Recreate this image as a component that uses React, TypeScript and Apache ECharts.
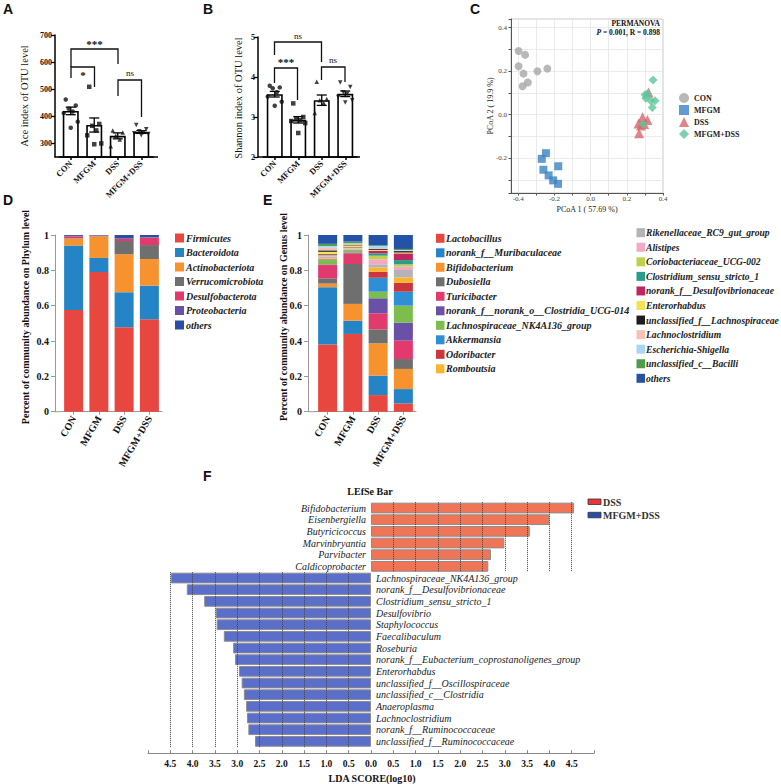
import React, { useEffect, useRef } from 'react';
import * as echarts from 'echarts';

const SERIF = "'Liberation Serif', 'Times New Roman', serif";
const SANS = "'Liberation Sans', Arial, sans-serif";

const groups = ['CON', 'MFGM', 'DSS', 'MFGM+DSS'];

// Panel A – Ace index
const aceMean = [420, 368, 328, 342];
const aceSem = [14, 26, 11, 5];
const acePoints = [
  [462, 440, 428, 418, 412, 380, 358],
  [509, 372, 365, 348, 330, 300, 297],
  [348, 340, 328, 315, 290],
  [368, 352, 345, 340, 338, 335, 330],
];

// Panel B – Shannon index
const shMean = [3.57, 2.93, 3.42, 3.58];
const shSem = [0.07, 0.08, 0.13, 0.07];
const shPoints = [
  [3.78, 3.74, 3.72, 3.62, 3.51, 3.38, 3.28],
  [3.34, 3.0, 2.95, 2.92, 2.9, 2.85, 2.6],
  [3.88, 3.45, 3.42, 3.35, 3.1],
  [3.86, 3.75, 3.62, 3.58, 3.5, 3.42, 3.36],
];

// Panel C – PCoA
const pcoaCON = [[-0.398, 0.293], [-0.362, 0.275], [-0.398, 0.223], [-0.371, 0.189], [-0.347, 0.148], [-0.376, 0.131], [-0.294, 0.2], [-0.239, 0.212]];
const pcoaMFGM = [[-0.27, -0.203], [-0.247, -0.177], [-0.261, -0.253], [-0.232, -0.279], [-0.207, -0.302], [-0.18, -0.318], [-0.179, -0.237]];
const pcoaDSS = [[0.32, 0.102], [0.287, -0.012], [0.314, -0.024], [0.265, -0.04], [0.278, -0.05], [0.268, -0.085], [0.296, -0.043]];
const pcoaMFGMDSS = [[0.345, 0.16], [0.301, 0.092], [0.314, 0.095], [0.305, 0.076], [0.332, 0.064], [0.356, 0.064], [0.341, 0.033], [0.29, -0.043]];

// Panel D – Phylum
const phylumNames = ['Firmicutes', 'Bacteroidota', 'Actinobacteriota', 'Verrucomicrobiota', 'Desulfobacterota', 'Proteobacteria', 'others'];
const phylumColors = ['#e8473f', '#2484c6', '#f7932f', '#6f6f6f', '#e33a6d', '#6a51a8', '#2a4fa0'];
const phylumValues = [
  [0.575, 0.79, 0.478, 0.523],
  [0.365, 0.08, 0.198, 0.19],
  [0.04, 0.122, 0.215, 0.151],
  [0.002, 0.002, 0.075, 0.079],
  [0.01, 0.002, 0.012, 0.042],
  [0.003, 0.002, 0.004, 0.002],
  [0.005, 0.002, 0.018, 0.013],
];

// Panel E – Genus
const genusNames = [
  'Lactobacillus', 'norank_f__Muribaculaceae', 'Bifidobacterium', 'Dubosiella', 'Turicibacter',
  'norank_f__norank_o__Clostridia_UCG-014', 'Lachnospiraceae_NK4A136_group', 'Akkermansia', 'Odoribacter', 'Romboutsia',
  'Rikenellaceae_RC9_gut_group', 'Alistipes', 'Coriobacteriaceae_UCG-002', 'Clostridium_sensu_stricto_1',
  'norank_f__Desulfovibrionaceae', 'Enterorhabdus', 'unclassified_f__Lachnospiraceae', 'Lachnoclostridium',
  'Escherichia-Shigella', 'unclassified_c__Bacilli', 'others',
];
const genusColors = [
  '#e8473f', '#2484c6', '#f7932f', '#6f6f6f', '#e33a6d', '#6a51a8', '#7cbd4e', '#2f8fd6', '#c9373a', '#f9b530',
  '#b3b3b8', '#f2a9c6', '#bfd14a', '#2a9c8c', '#c0255f', '#f1e352', '#1d1d1d', '#f8c2b3', '#a9d6f2', '#4a9e4e', '#2452a8',
];
const genusValues = [
  [0.38, 0.44, 0.094, 0.047],
  [0.325, 0.075, 0.11, 0.081],
  [0.02, 0.095, 0.183, 0.114],
  [0.03, 0.226, 0.079, 0.056],
  [0.075, 0.06, 0.091, 0.104],
  [0.003, 0.003, 0.085, 0.102],
  [0.025, 0.01, 0.037, 0.096],
  [0.002, 0.003, 0.079, 0.079],
  [0.003, 0.002, 0.034, 0.051],
  [0.005, 0.004, 0.025, 0.03],
  [0.007, 0.003, 0.017, 0.042],
  [0.005, 0.003, 0.028, 0.019],
  [0.005, 0.004, 0.021, 0.013],
  [0.003, 0.002, 0.013, 0.024],
  [0.005, 0.003, 0.015, 0.038],
  [0.012, 0.008, 0.005, 0.005],
  [0.008, 0.004, 0.006, 0.008],
  [0.015, 0.005, 0.004, 0.003],
  [0.01, 0.003, 0.012, 0.003],
  [0.012, 0.01, 0.004, 0.006],
  [0.05, 0.037, 0.058, 0.079],
];

// Panel F – LEfSe
const dssTaxa = ['Bifidobacterium', 'Eisenbergiella', 'Butyricicoccus', 'Marvinbryantia', 'Parvibacter', 'Caldicoprobacter'];
const dssLda = [4.55, 4.0, 3.56, 2.99, 2.69, 2.63];
const mfgmTaxa = [
  'Lachnospiraceae_NK4A136_group', 'norank_f__Desulfovibrionaceae', 'Clostridium_sensu_stricto_1', 'Desulfovibrio',
  'Staphylococcus', 'Faecalibaculum', 'Roseburia', 'norank_f__Eubacterium_coprostanoligenes_group', 'Enterorhabdus',
  'unclassified_f__Oscillospiraceae', 'unclassified_c__Clostridia', 'Anaeroplasma', 'Lachnoclostridium',
  'norank_f__Ruminococcaceae', 'unclassified_f__Ruminococcaceae',
];
const mfgmLda = [4.49, 4.13, 3.74, 3.48, 3.46, 3.3, 3.09, 3.05, 2.96, 2.9, 2.85, 2.8, 2.78, 2.75, 2.6];
const ldaGridTicks = [0.5, 1, 1.5, 2, 2.5, 3, 3.5, 4, 4.5];

const dotSymbols = ['circle', 'rect', 'triangle', 'triangle'];
const dotRotate = [0, 0, 0, 180];
const jitter = [-5, 5, -2, 2, -7, 7, 0];

function txt(text: string, x: number, y: number, o: any = {}) {
  const align = o.align || 'center';
  const va = o.va || 'middle';
  return {
    type: 'text', x, y, rotation: o.rot || 0, silent: true, z: 50,
    style: {
      text, fill: o.fill || '#111', fontSize: o.size || 10, fontWeight: o.weight || 'normal',
      fontStyle: o.fstyle || 'normal', fontFamily: o.family || SERIF,
      align, verticalAlign: va, textAlign: align, textVerticalAlign: va, rich: o.rich,
    },
  };
}
function pl(points: number[][], w = 1.3, color = '#111') {
  return { type: 'polyline', silent: true, z: 50, shape: { points }, style: { stroke: color, lineWidth: w, fill: null } };
}

function errRender(_p: any, api: any) {
  const x = api.value(0), m = api.value(1), e = api.value(2);
  const t = api.coord([x, m + e]);
  const b = api.coord([x, m - e]);
  const w = 5;
  const st = { stroke: '#000', lineWidth: 1.3 };
  return {
    type: 'group',
    children: [
      { type: 'line', shape: { x1: t[0], y1: t[1], x2: b[0], y2: b[1] }, style: st },
      { type: 'line', shape: { x1: t[0] - w, y1: t[1], x2: t[0] + w, y2: t[1] }, style: st },
      { type: 'line', shape: { x1: b[0] - w, y1: b[1], x2: b[0] + w, y2: b[1] }, style: st },
    ],
  };
}

function dotPlot(xi: number, yi: number, mean: number[], sem: number[], pts: number[][]) {
  const s: any[] = [
    {
      type: 'bar', name: 'bar' + xi, xAxisIndex: xi, yAxisIndex: yi, data: mean, barWidth: 16, z: 2,
      itemStyle: { color: '#fff', borderColor: '#000', borderWidth: 1.6 },
    },
    {
      type: 'custom', name: 'err' + xi, xAxisIndex: xi, yAxisIndex: yi, z: 3, renderItem: errRender,
      encode: { x: 0, y: 1 }, data: mean.map((m, i) => [i, m, sem[i]]),
    },
  ];
  pts.forEach((arr, i) => {
    s.push({
      type: 'scatter', name: 'pts' + xi + '_' + i, xAxisIndex: xi, yAxisIndex: yi, z: 4,
      symbol: dotSymbols[i], symbolRotate: dotRotate[i], symbolSize: 4.5,
      itemStyle: { color: '#111' },
      data: arr.map((v, j) => ({ value: [i, v], symbolOffset: [jitter[j % jitter.length], 0] })),
    });
  });
  return s;
}

const catAxis = (gridIndex: number, rotate: number, size: number, color: string, lw: number) => ({
  type: 'category', gridIndex, data: groups,
  axisLine: { show: true, onZero: false, lineStyle: { color, width: lw } },
  axisTick: { show: true, alignWithLabel: true, length: 3, lineStyle: { color, width: lw } },
  axisLabel: { interval: 0, rotate, fontSize: size, fontWeight: 'bold', fontFamily: SERIF, color: '#111', margin: 5 },
});

function buildOption(): any {
  const series: any[] = [];
  series.push(...dotPlot(0, 0, aceMean, aceSem, acePoints));
  series.push(...dotPlot(2, 2, shMean, shSem, shPoints));

  const pc = [
    { name: 'CON', data: pcoaCON, symbol: 'circle', size: 8, color: '#a6a6a6' },
    { name: 'MFGM', data: pcoaMFGM, symbol: 'rect', size: 8, color: '#3b82c4' },
    { name: 'DSS', data: pcoaDSS, symbol: 'triangle', size: 10, color: '#d6686c' },
    { name: 'MFGM+DSS', data: pcoaMFGMDSS, symbol: 'diamond', size: 9, color: '#5ec69a' },
  ];
  pc.forEach((p) => series.push({
    type: 'scatter', name: p.name, xAxisIndex: 3, yAxisIndex: 3, symbol: p.symbol, symbolSize: p.size,
    itemStyle: { color: p.color }, data: p.data,
  }));

  phylumNames.forEach((n, k) => series.push({
    type: 'bar', name: 'D:' + n, stack: 'D', xAxisIndex: 4, yAxisIndex: 4, barWidth: 19,
    itemStyle: { color: phylumColors[k] }, data: phylumValues[k],
  }));
  genusNames.forEach((n, k) => series.push({
    type: 'bar', name: 'E:' + n, stack: 'E', xAxisIndex: 5, yAxisIndex: 5, barWidth: 19,
    itemStyle: { color: genusColors[k] }, data: genusValues[k],
  }));

  const fLabel = { show: true, formatter: '{b}', fontSize: 10, fontStyle: 'italic', fontFamily: SERIF, color: '#222', distance: 5 };
  const mlStyle = { type: 'dotted', color: '#444', width: 1 };
  series.push({
    type: 'bar', name: 'F-DSS', xAxisIndex: 6, yAxisIndex: 6, data: dssLda, barWidth: '92%',
    itemStyle: { color: '#f07556', borderColor: '#8c8c8c', borderWidth: 1 },
    label: { ...fLabel, position: 'left' },
    markLine: { silent: true, symbol: 'none', label: { show: false }, lineStyle: mlStyle, data: ldaGridTicks.map((v) => ({ xAxis: v })) },
  });
  series.push({
    type: 'bar', name: 'F-MFGM+DSS', xAxisIndex: 7, yAxisIndex: 7, data: mfgmLda.map((v) => -v), barWidth: '92%',
    itemStyle: { color: '#5b6fca', borderColor: '#8c8c8c', borderWidth: 1 },
    label: { ...fLabel, position: 'right' },
    markLine: { silent: true, symbol: 'none', label: { show: false }, lineStyle: mlStyle, data: ldaGridTicks.map((v) => ({ xAxis: -v })) },
  });

  const pcFmt = (v: number) => {
    const r = Math.round(v * 10);
    if (Math.abs(v * 10 - r) > 1e-6 || r % 2 !== 0) return '';
    return (r / 10).toFixed(1);
  };
  const fracFmt = (v: number) => (v === 0 ? '0' : v === 1 ? '1' : v.toFixed(1));

  const grid = (left: number, top: number, width: number, height: number, extra: any = {}) => ({ left, top, width, height, outerBoundsMode: 'none', ...extra });

  const option: any = {
    animation: false,
    backgroundColor: '#fff',
    textStyle: { fontFamily: SERIF },
    grid: [
      grid(59, 35, 94, 122),
      grid(59, 35, 94, 108.3),
      grid(263, 37, 94, 120),
      grid(511, 19, 152, 174, { show: true, borderColor: '#c8c8c8', borderWidth: 1 }),
      grid(61, 235, 101, 176.7),
      grid(315, 235, 101, 176.7),
      grid(148, 502.2, 446, 70),
      grid(148, 572.2, 446, 175),
    ],
    xAxis: [
      catAxis(0, 45, 8.5, '#000', 1.5),
      { type: 'category', gridIndex: 1, data: groups, show: false },
      catAxis(2, 45, 8.5, '#000', 1.5),
      {
        type: 'value', gridIndex: 3, min: -0.44, max: 0.4, splitNumber: 8,
        axisLine: { show: true, onZero: false, lineStyle: { color: '#555' } },
        axisTick: { show: true, length: 2.5, lineStyle: { color: '#555' } },
        axisLabel: { fontSize: 7, color: '#444', fontFamily: SERIF, margin: 2.5, formatter: pcFmt, showMinLabel: false },
        splitLine: { show: true, lineStyle: { color: '#e6e6e6', width: 0.8 } },
      },
      catAxis(4, 60, 10, '#999', 1),
      catAxis(5, 60, 10, '#999', 1),
      { type: 'value', gridIndex: 6, min: -5, max: 5, show: false },
      {
        type: 'value', gridIndex: 7, min: -5, max: 5, interval: 0.5, offset: 6,
        axisLine: { show: true, onZero: false, lineStyle: { color: '#888' } },
        axisTick: { show: true, inside: true, length: 3, lineStyle: { color: '#888' } },
        axisLabel: {
          fontSize: 9.5, fontWeight: 'bold', fontFamily: SERIF, color: '#111', margin: 6,
          formatter: (v: number) => (Math.abs(v) >= 5 ? '' : Math.abs(v).toFixed(1)),
        },
        splitLine: { show: false },
      },
    ],
    yAxis: [
      {
        type: 'value', gridIndex: 0, min: 250, max: 700, offset: 4,
        axisLine: { show: true, onZero: false, lineStyle: { color: '#000', width: 1.5 } },
        axisTick: { show: false }, axisLabel: { show: false }, splitLine: { show: false },
      },
      {
        type: 'value', gridIndex: 1, min: 300, max: 700, interval: 100, offset: 4,
        axisLine: { show: false }, axisTick: { show: true, length: 4, lineStyle: { color: '#000', width: 1.3 } },
        axisLabel: { fontSize: 8, fontWeight: 'bold', fontFamily: SERIF, color: '#111', margin: 3 },
        splitLine: { show: false },
      },
      {
        type: 'value', gridIndex: 2, min: 2, max: 5, interval: 1, offset: 5,
        axisLine: { show: true, onZero: false, lineStyle: { color: '#000', width: 1.5 } },
        axisTick: { show: true, length: 4, lineStyle: { color: '#000', width: 1.3 } },
        axisLabel: { fontSize: 8, fontWeight: 'bold', fontFamily: SERIF, color: '#111', margin: 3 },
        splitLine: { show: false },
      },
      {
        type: 'value', gridIndex: 3, min: -0.36, max: 0.44, splitNumber: 8,
        axisLine: { show: true, onZero: false, lineStyle: { color: '#555' } },
        axisTick: { show: true, length: 2.5, lineStyle: { color: '#555' } },
        axisLabel: { fontSize: 7, color: '#444', fontFamily: SERIF, margin: 4, formatter: pcFmt },
        splitLine: { show: true, lineStyle: { color: '#e6e6e6', width: 0.8 } },
      },
      {
        type: 'value', gridIndex: 4, min: 0, max: 1, interval: 0.2, offset: 6,
        axisLine: { show: true, onZero: false, lineStyle: { color: '#999' } },
        axisTick: { show: true, length: 4, lineStyle: { color: '#999' } },
        axisLabel: { fontSize: 10, fontWeight: 'bold', fontFamily: SERIF, color: '#111', margin: 6, formatter: fracFmt },
        splitLine: { show: false },
      },
      {
        type: 'value', gridIndex: 5, min: 0, max: 1, interval: 0.2, offset: 7,
        axisLine: { show: true, onZero: false, lineStyle: { color: '#999' } },
        axisTick: { show: true, length: 4, lineStyle: { color: '#999' } },
        axisLabel: { fontSize: 10, fontWeight: 'bold', fontFamily: SERIF, color: '#111', margin: 6, formatter: fracFmt },
        splitLine: { show: false },
      },
      { type: 'category', gridIndex: 6, data: dssTaxa, inverse: true, show: false },
      { type: 'category', gridIndex: 7, data: mfgmTaxa, inverse: true, show: false },
    ],
    legend: [{
      data: ['CON', 'MFGM', 'DSS', 'MFGM+DSS'], orient: 'vertical', left: 674, top: 88,
      itemWidth: 10, itemHeight: 10, itemGap: 2, selectedMode: false,
      textStyle: { fontSize: 8, fontWeight: 'bold', fontFamily: SERIF, color: '#222' },
    }],
    series,
    graphic: [] as any[],
  };

  const g: any[] = option.graphic;
  // Panel letters
  g.push(txt('A', 3, 9, { size: 14, weight: 'bold', family: SANS, align: 'left' }));
  g.push(txt('B', 203, 9, { size: 14, weight: 'bold', family: SANS, align: 'left' }));
  g.push(txt('C', 470, 9, { size: 14, weight: 'bold', family: SANS, align: 'left' }));
  g.push(txt('D', 3, 200, { size: 14, weight: 'bold', family: SANS, align: 'left' }));
  g.push(txt('E', 263, 200, { size: 14, weight: 'bold', family: SANS, align: 'left' }));
  g.push(txt('F', 203, 476, { size: 14, weight: 'bold', family: SANS, align: 'left' }));

  // Axis line extensions (x-axis meets the offset y-axis)
  g.push(pl([[54.5, 157], [158, 157]], 1.5, '#000'));
  g.push(pl([[257.5, 157], [360, 157]], 1.5, '#000'));
  g.push(pl([[55, 411.7], [61, 411.7]], 1, '#999'));
  g.push(pl([[308, 411.7], [315, 411.7]], 1, '#999'));

  // Axis titles
  g.push(txt('Ace index of OTU level', 24, 96, { size: 10.5, rot: Math.PI / 2 }));
  g.push(txt('Shannon index of OTU level', 238, 98, { size: 10.5, rot: Math.PI / 2 }));
  g.push(txt('Percent of community abundance on Phylum level', 25, 317, { size: 10, weight: 'bold', rot: Math.PI / 2 }));
  g.push(txt('Percent of community abundance on Genus level', 283, 317, { size: 10, weight: 'bold', rot: Math.PI / 2 }));
  g.push(txt('PCoA 1 ( 57.69 %)', 587, 209, { size: 8, fill: '#222' }));
  g.push(txt('PCoA 2 ( 19.9 %)', 490, 106, { size: 8, fill: '#222', rot: Math.PI / 2 }));
  g.push(txt('PERMANOVA', 660, 23, { size: 7.5, weight: 'bold', align: 'right' }));
  g.push(txt('{i|P} = 0.001, R = 0.898', 660, 32, {
    size: 7.5, weight: 'bold', align: 'right',
    rich: { i: { fontStyle: 'italic', fontWeight: 'bold', fontSize: 7.5, fontFamily: SERIF, fill: '#111' } },
  }));

  // Significance brackets A
  g.push(pl([[71, 67], [71, 49], [118, 49], [118, 64]]));
  g.push(txt('***', 94.5, 44, { size: 11, weight: 'bold' }));
  g.push(pl([[71, 78], [71, 67], [94.5, 67], [94.5, 87]]));
  g.push(txt('*', 83, 75, { size: 11, weight: 'bold' }));
  g.push(pl([[118, 96], [118, 80], [141.5, 80], [141.5, 117]]));
  g.push(txt('ns', 130, 73, { size: 9 }));
  // Significance brackets B
  g.push(pl([[274.5, 55], [274.5, 42], [321.5, 42], [321.5, 62]]));
  g.push(txt('ns', 298, 36, { size: 9 }));
  g.push(pl([[274.5, 83], [274.5, 68], [297.5, 68], [297.5, 100]]));
  g.push(txt('***', 286, 62, { size: 11, weight: 'bold' }));
  g.push(pl([[321.5, 80], [321.5, 67], [345, 67], [345, 82]]));
  g.push(txt('ns', 333, 60, { size: 9 }));

  // Legend D
  phylumNames.forEach((n, k) => {
    const y = 238 + k * 14.5;
    g.push({ type: 'rect', silent: true, shape: { x: 175, y: y - 4.5, width: 9, height: 9 }, style: { fill: phylumColors[k] } });
    g.push(txt(n, 186, y, { size: 10, weight: 'bold', fstyle: 'italic', align: 'left', fill: '#222' }));
  });
  // Legend E
  genusNames.forEach((n, k) => {
    const col = k < 10 ? 0 : 1;
    const idx = col === 0 ? k : k - 10;
    const y = col === 0 ? 238.3 + idx * 14.5 : 232.7 + idx * 14.56;
    const rx = col === 0 ? 436 : 636.5;
    const tx = col === 0 ? 446 : 646;
    g.push({ type: 'rect', silent: true, shape: { x: rx, y: y - 4.5, width: 8.5, height: 9 }, style: { fill: genusColors[k] } });
    g.push(txt(n, tx, y, { size: col === 0 ? 10 : 9.6, weight: 'bold', fstyle: 'italic', align: 'left', fill: '#222' }));
  });

  // Panel F title, axis name, legend
  g.push(txt('LEfSe Bar', 370, 491, { size: 10, weight: 'bold' }));
  g.push(txt('LDA SCORE(log10)', 372, 778, { size: 10, weight: 'bold' }));
  g.push({ type: 'rect', silent: true, shape: { x: 588, y: 499, width: 13, height: 5.5 }, style: { fill: '#e8363a', stroke: '#333', lineWidth: 0.8 } });
  g.push(txt('DSS', 603, 502, { size: 10, weight: 'bold', align: 'left', fill: '#333' }));
  g.push({ type: 'rect', silent: true, shape: { x: 588, y: 512.3, width: 13, height: 5.5 }, style: { fill: '#2b4da6', stroke: '#333', lineWidth: 0.8 } });
  g.push(txt('MFGM+DSS', 603, 515.5, { size: 10, weight: 'bold', align: 'left', fill: '#333' }));

  return option;
}

export default function App() {
  const ref = useRef<HTMLDivElement>(null);
  useEffect(() => {
    if (!ref.current) return;
    const chart = echarts.init(ref.current, undefined, { renderer: 'svg' });
    chart.setOption(buildOption());
    return () => chart.dispose();
  }, []);
  return <div ref={ref} style={{ position: 'absolute', left: 0, top: 0, width: 781, height: 784, background: '#fff' }} />;
}
